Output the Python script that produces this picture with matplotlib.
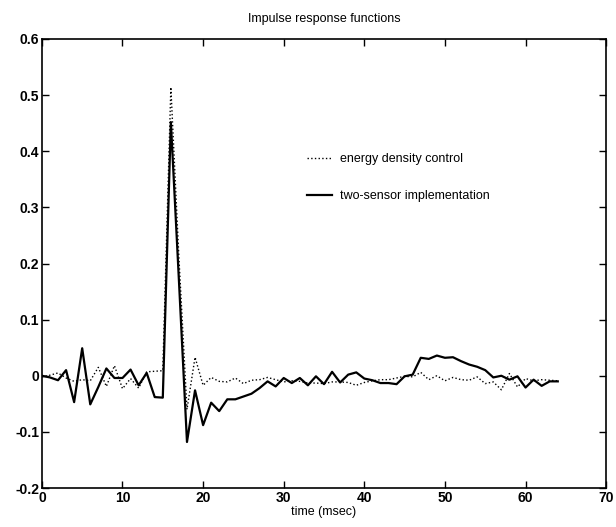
import numpy as np
import matplotlib
matplotlib.use('Agg')
import matplotlib.pyplot as plt
from matplotlib.ticker import FuncFormatter

time_ms = list(range(0, 65))

energy_density = [-0.002, 0.001, 0.005, -0.004, -0.010, -0.007, -0.009, 0.015, -0.019, 0.018,
                  -0.023, -0.005, -0.022, 0.007, 0.008, 0.009, 0.514, 0.210, -0.060, 0.033,
                  -0.017, -0.003, -0.010, -0.011, -0.004, -0.014, -0.008, -0.007, -0.003, -0.007,
                  -0.011, -0.009, -0.010, -0.013, -0.013, -0.014, -0.011, -0.011, -0.012, -0.017,
                  -0.012, -0.009, -0.007, -0.007, -0.004, -0.001, -0.002, 0.006, -0.007, 0.000,
                  -0.009, -0.003, -0.007, -0.008, -0.002, -0.014, -0.011, -0.025, 0.004, -0.020,
                  -0.005, -0.009, -0.007, -0.008, -0.009]

two_sensor = [0.000, -0.003, -0.008, 0.010, -0.047, 0.049, -0.051, -0.020, 0.013, -0.004,
              -0.004, 0.011, -0.017, 0.005, -0.038, -0.039, 0.452, 0.170, -0.118, -0.026,
              -0.088, -0.048, -0.063, -0.042, -0.042, -0.037, -0.032, -0.022, -0.010, -0.019,
              -0.004, -0.013, -0.004, -0.017, -0.001, -0.015, 0.007, -0.012, 0.002, 0.006,
              -0.005, -0.008, -0.013, -0.013, -0.015, -0.001, 0.002, 0.032, 0.030, 0.036,
              0.032, 0.033, 0.026, 0.020, 0.016, 0.010, -0.003, 0.000, -0.007, -0.001,
              -0.021, -0.007, -0.018, -0.010, -0.010]

xticks = list(range(0, 71, 10))
yticks = [-0.2, -0.1, 0.0, 0.1, 0.2, 0.3, 0.4, 0.5, 0.6]

plt.rcParams['font.family'] = ['Liberation Sans', 'DejaVu Sans']

fig = plt.figure(figsize=(6.16, 5.27), dpi=100)
ax = fig.add_axes([0.068, 0.074, 0.916, 0.852])

ax.plot(time_ms, energy_density, color='black', linestyle=':', linewidth=1.0,
        label='energy density control')
ax.plot(time_ms, two_sensor, color='black', linestyle='-', linewidth=1.6,
        label='two-sensor implementation')

ax.set_xlim(0, 70)
ax.set_ylim(-0.2, 0.6)
ax.set_xticks(xticks)
ax.set_yticks(yticks)
ax.yaxis.set_major_formatter(FuncFormatter(lambda v, p: '0' if abs(v) < 1e-9 else '%g' % v))

ax.tick_params(direction='in', length=5, width=1, top=True, right=True,
               labelsize=10, pad=2)
for lbl in ax.get_xticklabels() + ax.get_yticklabels():
    lbl.set_fontweight('bold')
for s in ax.spines.values():
    s.set_linewidth(1.2)

ax.set_title('Impulse response functions', fontsize=9, pad=12)
ax.set_xlabel('time (msec)', fontsize=9, labelpad=1)

ax.legend(loc='upper left', bbox_to_anchor=(0.47, 0.745), frameon=False,
          fontsize=9, handlelength=2.0, handletextpad=0.6, labelspacing=2.0,
          borderpad=0, borderaxespad=0)

fig.savefig('out.png', dpi=100)
